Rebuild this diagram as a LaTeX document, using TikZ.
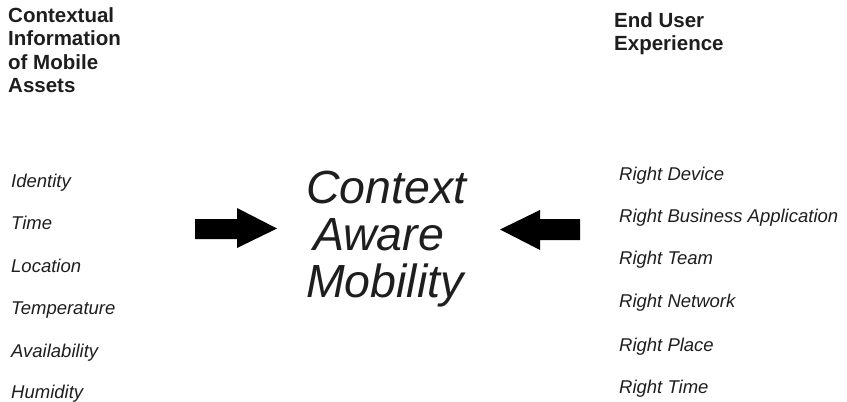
\documentclass[tikz,border=0pt]{standalone}
\usepackage{fontspec}
\setmainfont{Liberation Sans}
\definecolor{ink}{HTML}{1E1E1E}
\tikzset{
  head/.style={anchor=base west,inner sep=0pt,text=ink,font=\bfseries\fontsize{20.5}{24}\selectfont},
  item/.style={anchor=base west,inner sep=0pt,text=ink,font=\itshape\fontsize{18.5}{22}\selectfont},
  big/.style={anchor=base west,inner sep=0pt,text=ink,font=\itshape\fontsize{46.5}{47}\selectfont},
  blockarrow/.style={fill=black,draw=none}
}
\begin{document}
\begin{tikzpicture}[x=1pt,y=-1pt]
\useasboundingbox (0,0) rectangle (847,402);
% left header
\node[head] (lh1) at (8,22) {Contextual};
\node[head] (lh2) at (8,45.5) {Information};
\node[head] (lh3) at (8,69) {of Mobile};
\node[head] (lh4) at (8,92.5) {Assets};
% right header
\node[head] (rh1) at (614,27) {End User};
\node[head] (rh2) at (614,50.5) {Experience};
% left items
\node[item] (l1) at (11,187) {Identity};
\node[item] (l2) at (11,229) {Time};
\node[item] (l3) at (11,272) {Location};
\node[item] (l4) at (11,314) {Temperature};
\node[item] (l5) at (11,357) {Availability};
\node[item] (l6) at (11,398) {Humidity};
% right items
\node[item] (r1) at (619,180) {Right Device};
\node[item] (r2) at (619,222) {Right Business Application};
\node[item] (r3) at (619,264) {Right Team};
\node[item] (r4) at (619,307) {Right Network};
\node[item] (r5) at (619,351) {Right Place};
\node[item] (r6) at (619,393) {Right Time};
% center
\node[big] (c1) at (306,203) {Context};
\node[big] (c2) at (313,250) {Aware};
\node[big] (c3) at (306,297) {Mobility};
% arrows
\fill[blockarrow] (195,219) -- (237,219) -- (237,208) -- (277,228.5) -- (237,248) -- (237,239) -- (195,239) -- cycle;
\fill[blockarrow] (580,219) -- (540,219) -- (540,210) -- (500,229.5) -- (540,250) -- (540,240) -- (580,240) -- cycle;
\end{tikzpicture}
\end{document}
